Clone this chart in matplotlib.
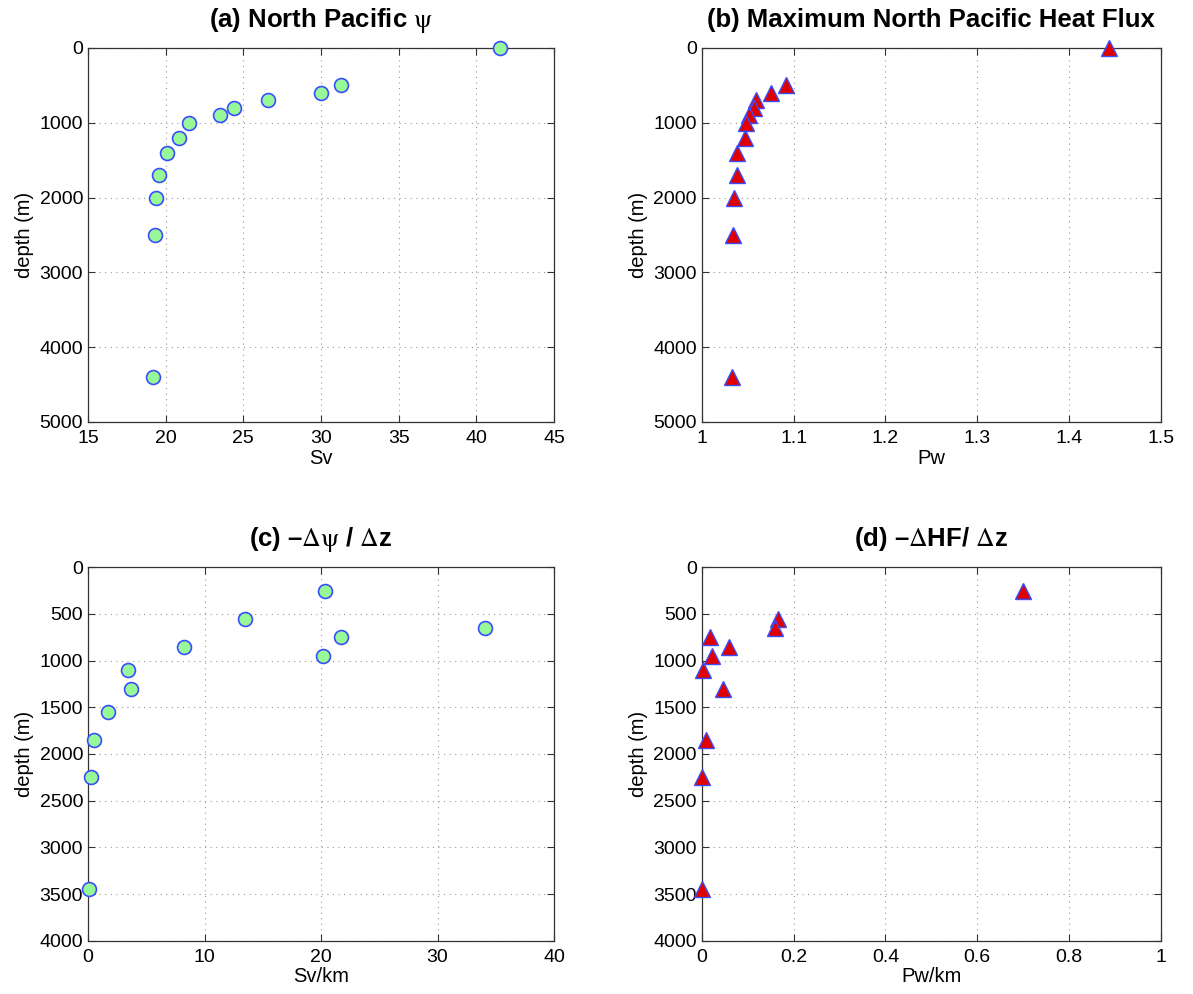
import matplotlib
matplotlib.use("Agg")
import matplotlib.pyplot as plt
import numpy as np

plt.rcParams['font.family'] = ['Liberation Sans', 'DejaVu Sans']
plt.rcParams['mathtext.fontset'] = 'stix'

# (a) North Pacific psi and (b) max heat flux vs depth
depth_ab = [0, 500, 600, 700, 800, 900, 1000, 1200, 1400, 1700, 2000, 2500, 4400]
psi_sv = [41.5, 31.3, 30.0, 26.6, 24.4, 23.5, 21.5, 20.85, 20.1, 19.6, 19.4, 19.3, 19.15]
heat_pw = [1.443, 1.092, 1.075, 1.059, 1.057, 1.0515, 1.0485, 1.0475, 1.038, 1.0385,
           1.0355, 1.034, 1.033]

# (c) -dpsi/dz
depth_c = [250, 550, 650, 750, 850, 950, 1100, 1300, 1550, 1850, 2250, 3450]
dpsi = [20.3, 13.5, 34.05, 21.7, 8.2, 20.2, 3.45, 3.65, 1.75, 0.5, 0.25, 0.05]

# (d) -dHF/dz (1550 m value is negative, off the axis)
depth_d = [250, 550, 650, 750, 850, 950, 1100, 1300, 1850, 2250, 3450]
dhf = [0.70, 0.167, 0.160, 0.019, 0.059, 0.023, 0.003, 0.047, 0.0094, 0.0015, 0.0]

green = '#98f898'
edge = '#3a4dff'

fig = plt.figure(figsize=(11.93, 9.94), dpi=100)
ax_a = fig.add_axes([0.0738, 0.5755, 0.3906, 0.3763])
ax_b = fig.add_axes([0.5882, 0.5755, 0.3850, 0.3763])
ax_c = fig.add_axes([0.0738, 0.0536, 0.3906, 0.3757])
ax_d = fig.add_axes([0.5882, 0.0536, 0.3850, 0.3757])

def circles(ax, x, y):
    ax.plot(x, y, 'o', ms=10, mfc=green, mec=edge, mew=1.2, clip_on=False, zorder=5)

def triangles(ax, x, y):
    ax.plot(x, y, '^', ms=11, mfc='#e00000', mec=edge, mew=1.0, clip_on=False, zorder=5)

circles(ax_a, psi_sv, depth_ab)
triangles(ax_b, heat_pw, depth_ab)
circles(ax_c, dpsi, depth_c)
triangles(ax_d, dhf, depth_d)

tfs = 18.5
lfs = 14.5
tpad = 15

ax_a.set_xlim(15, 45)
ax_a.set_xticks(np.arange(15, 46, 5))
ax_a.set_ylim(5000, 0)
ax_a.set_yticks(np.arange(0, 5001, 1000))
ax_a.set_xlabel('Sv', fontsize=lfs)
ax_a.set_title('(a) North Pacific $\\mathrm{\\psi}$', fontsize=tfs, fontweight='bold', pad=tpad)

ax_b.set_xlim(1, 1.5)
ax_b.set_xticks([1, 1.1, 1.2, 1.3, 1.4, 1.5])
ax_b.set_xticklabels(['1', '1.1', '1.2', '1.3', '1.4', '1.5'])
ax_b.set_ylim(5000, 0)
ax_b.set_yticks(np.arange(0, 5001, 1000))
ax_b.set_xlabel('Pw', fontsize=lfs)
ax_b.set_title('(b) Maximum North Pacific Heat Flux', fontsize=tfs, fontweight='bold', pad=tpad)

ax_c.set_xlim(0, 40)
ax_c.set_xticks(np.arange(0, 41, 10))
ax_c.set_ylim(4000, 0)
ax_c.set_yticks(np.arange(0, 4001, 500))
ax_c.set_xlabel('Sv/km', fontsize=lfs)
ax_c.set_title('(c) \u2013$\\mathrm{\\Delta\\psi}$ / $\\mathrm{\\Delta}$z', fontsize=tfs,
               fontweight='bold', pad=tpad)

ax_d.set_xlim(0, 1)
ax_d.set_xticks([0, 0.2, 0.4, 0.6, 0.8, 1])
ax_d.set_xticklabels(['0', '0.2', '0.4', '0.6', '0.8', '1'])
ax_d.set_ylim(4000, 0)
ax_d.set_yticks(np.arange(0, 4001, 500))
ax_d.set_xlabel('Pw/km', fontsize=lfs)
ax_d.set_title('(d) \u2013$\\mathrm{\\Delta}$HF/ $\\mathrm{\\Delta}$z', fontsize=tfs,
               fontweight='bold', pad=tpad)

for ax in [ax_a, ax_b, ax_c, ax_d]:
    ax.set_ylabel('depth (m)', fontsize=lfs, labelpad=4)
    ax.grid(True, linestyle=(0, (1, 4)), color='#999999', linewidth=0.8)
    ax.tick_params(direction='in', top=True, right=True, labelsize=14, length=5,
                   width=0.8, colors='#333333', labelcolor='black')
    ax.tick_params(axis='x', pad=6)
    ax.xaxis.labelpad = 1
    for s in ax.spines.values():
        s.set_color('#333333')
        s.set_linewidth(0.9)

fig.savefig('out.png', dpi=100)
